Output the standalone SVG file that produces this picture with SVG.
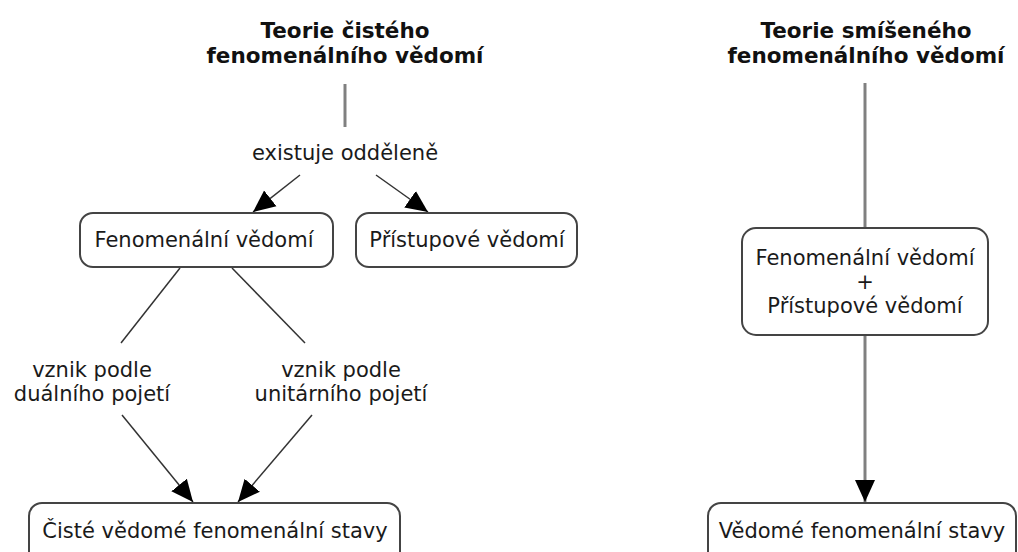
<svg xmlns="http://www.w3.org/2000/svg" width="1018" height="552" viewBox="0 0 1018 552">
<defs>
<marker id="ah" markerUnits="userSpaceOnUse" markerWidth="22" markerHeight="22" viewBox="0 0 22 22" refX="22" refY="11" orient="auto">
<path d="M0,1 L22,11 L0,21 z" fill="#000"/>
</marker>
<style>
.t{font-family:"DejaVu Sans","Verdana",sans-serif;font-size:21px;fill:#1a1a1a;text-anchor:middle}
.tb{font-family:"DejaVu Sans","Verdana",sans-serif;font-size:21.5px;font-weight:bold;fill:#111;text-anchor:middle}
.box{fill:#fff;stroke:#444;stroke-width:2}
.thin{stroke:#333;stroke-width:1.5;fill:none}
.gray{stroke:#808080;stroke-width:3;fill:none}
</style>
</defs>
<rect width="1018" height="552" fill="#fff"/>
<g id="connectors">
<line class="gray" x1="345" y1="84" x2="345" y2="127"/>
<line class="thin" x1="300" y1="175" x2="253" y2="212" marker-end="url(#ah)"/>
<line class="thin" x1="376" y1="175" x2="428" y2="212" marker-end="url(#ah)"/>
<line class="thin" x1="180" y1="268" x2="121" y2="343"/>
<line class="thin" x1="232" y1="268" x2="305" y2="343"/>
<line class="thin" x1="122" y1="415" x2="193" y2="502" marker-end="url(#ah)"/>
<line class="thin" x1="312" y1="415" x2="238" y2="502" marker-end="url(#ah)"/>
<line class="gray" x1="865" y1="83" x2="865" y2="228"/>
<line class="gray" x1="865" y1="335" x2="865" y2="502" marker-end="url(#ah)"/>
</g>
<g id="title1">
<text class="tb" x="345" y="38">Teorie čistého</text>
<text class="tb" x="345" y="63">fenomenálního vědomí</text>
</g>
<g id="label-existuje">
<text class="t" x="345" y="160">existuje odděleně</text>
</g>
<g id="fenomenalni">
<rect class="box" x="80" y="213" width="253" height="54" rx="13"/>
<text class="t" x="204" y="247">Fenomenální vědomí</text>
</g>
<g id="pristupove">
<rect class="box" x="356" y="213" width="221" height="54" rx="13"/>
<text class="t" x="467" y="247">Přístupové vědomí</text>
</g>
<g id="label-dualni">
<text class="t" x="92" y="377">vznik podle</text>
<text class="t" x="92" y="401">duálního pojetí</text>
</g>
<g id="label-unitarni">
<text class="t" x="341" y="377">vznik podle</text>
<text class="t" x="341" y="401">unitárního pojetí</text>
</g>
<g id="ciste-stavy">
<rect class="box" x="29" y="503" width="371" height="70" rx="13"/>
<text class="t" x="215" y="538">Čisté vědomé fenomenální stavy</text>
</g>
<g id="title2">
<text class="tb" x="866" y="38">Teorie smíšeného</text>
<text class="tb" x="866" y="63">fenomenálního vědomí</text>
</g>
<g id="smisene">
<rect class="box" x="742" y="228" width="246" height="107" rx="14"/>
<text class="t" x="865" y="265">Fenomenální vědomí</text>
<text class="t" x="865" y="289">+</text>
<text class="t" x="865" y="313">Přístupové vědomí</text>
</g>
<g id="vedome-stavy">
<rect class="box" x="708" y="503" width="308" height="70" rx="13"/>
<text class="t" x="862" y="538">Vědomé fenomenální stavy</text>
</g>
</svg>
